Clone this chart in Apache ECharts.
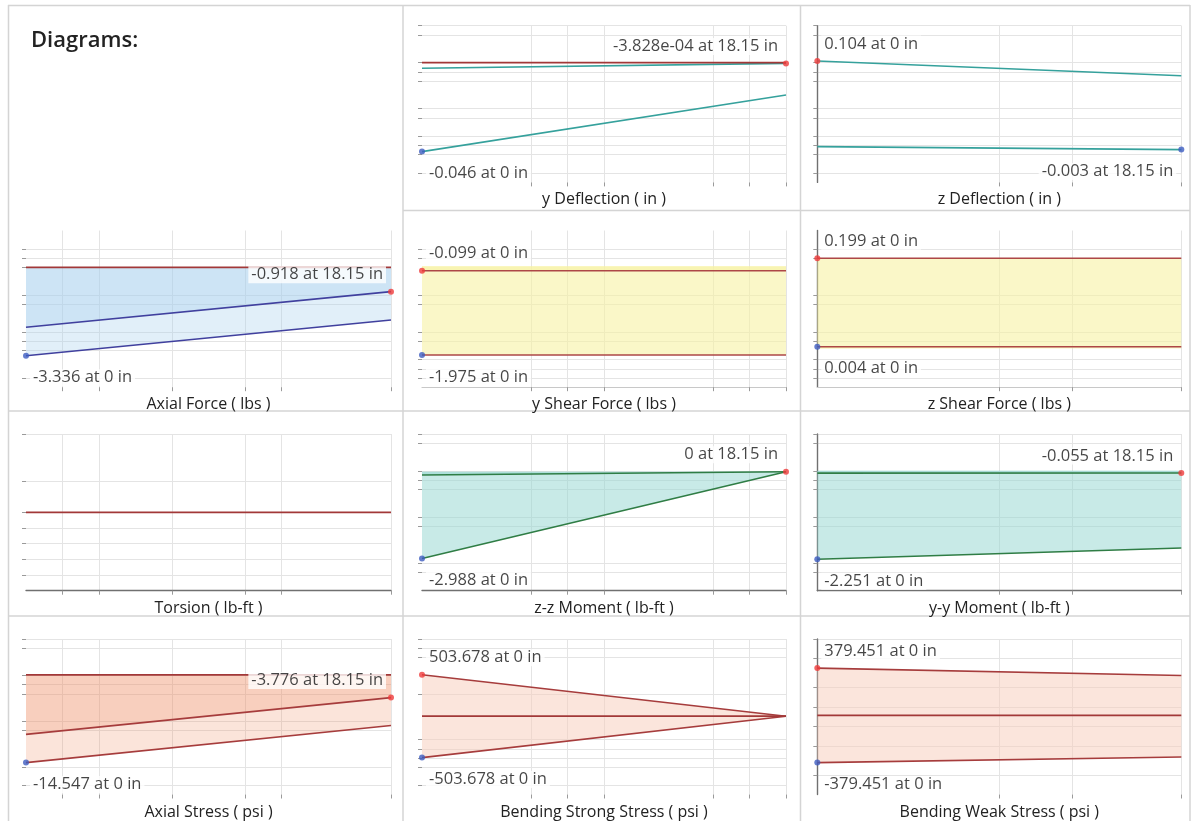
<!DOCTYPE html>
<html>
<head>
<meta charset="utf-8">
<title>Diagrams</title>
<script src="https://cdn.jsdelivr.net/npm/echarts@6/dist/echarts.min.js"></script>
<style>
  html, body { margin: 0; padding: 0; background: #fff; }
  #chart { width: 1193px; height: 821px; }
</style>
</head>
<body>
<div id="chart"></div>
<script>
// Stations along the member (in)
const stations = [0, 18.15];

// Envelope curves (max / min) at each station
const yDeflectionMax = [-0.0029, -3.828e-4];
const yDeflectionMin = [-0.046, -0.0167];
const zDeflectionMax = [0.104, 0.0862];
const zDeflectionMin = [0.0006, -0.003];
const axialForceMax = [-2.264, -0.918];
const axialForceMin = [-3.336, -1.99];
const yShearMax = [-0.099, -0.099];
const yShearMin = [-1.975, -1.975];
const zShearMax = [0.199, 0.199];
const zShearMin = [0.004, 0.004];
const torsionValues = [0, 0];
const zzMomentMax = [-0.11, 0];
const zzMomentMin = [-2.988, 0];
const yyMomentMax = [-0.06, -0.055];
const yyMomentMin = [-2.251, -1.964];
const axialStressMax = [-9.88, -3.776];
const axialStressMin = [-14.547, -8.40];
const bendStrongMax = [503.678, 0];
const bendStrongMin = [-503.678, 0];
const bendWeakMax = [379.451, 320];
const bendWeakMin = [-379.451, -335];

const diagramTitles = [
  'y Deflection ( in )', 'z Deflection ( in )',
  'Axial Force ( lbs )', 'y Shear Force ( lbs )', 'z Shear Force ( lbs )',
  'Torsion ( lb-ft )', 'z-z Moment ( lb-ft )', 'y-y Moment ( lb-ft )',
  'Axial Stress ( psi )', 'Bending Strong Stress ( psi )', 'Bending Weak Stress ( psi )'
];

// ---------- layout & styling ----------
const FONT = '"Open Sans", "Noto Sans", sans-serif';
const layout = {
  colLeft: [26, 422, 817.3],
  colWidth: [365, 364, 364],
  rowTop: [25.7, 230.5, 434, 639],
  rowHeight: 156.7
};
const X1 = [1, 2, 4, 6, 7, 10], X2 = [3, 4, 5, 8, 9, 10], X3 = [5, 7, 10];
const COLORS = {
  zero: '#a23838', teal: '#35a19c', navy: '#40409e', shear: '#ad4747',
  green: '#2f7d45', stress: '#a63c3c', maxDot: '#ef3b3b', minDot: '#3d5cc0',
  grid: '#e4e4e4', tick: '#9a9a9a', axisDark: '#707070', axisLight: '#c8c8c8'
};
const STYLES = {
  deflection: { line: COLORS.teal, area: null },
  axialForce: { line: COLORS.navy, area: 'rgba(168,207,238,0.34)' },
  shear:      { line: COLORS.shear, area: 'rgba(247,242,163,0.6)' },
  torsion:    { line: COLORS.zero, area: null },
  moment:     { line: COLORS.green, area: 'rgba(145,213,207,0.5)' },
  axialStress:{ line: COLORS.stress, area: 'rgba(239,143,99,0.24)' },
  bending:    { line: COLORS.stress, area: 'rgba(247,203,185,0.5)' }
};

const panels = [
  { title: diagramTitles[0], col: 1, row: 0, max: yDeflectionMax, min: yDeflectionMin, style: 'deflection', zero: true,
    range: [-0.06192, 0.01912], rows: 17, yLines: [0, 1, 4, 5, 6, 9, 10, 12, 13, 14, 16], xLines: X2 },
  { title: diagramTitles[1], col: 2, row: 0, max: zDeflectionMax, min: zDeflectionMin, style: 'deflection', zero: false,
    range: [-0.0426, 0.1466], rows: 17, yLines: [0, 1, 4, 5, 6, 9, 10, 12, 13, 14, 16], xLines: X3, leftLine: 'dark' },
  { title: diagramTitles[2], col: 0, row: 1, max: axialForceMax, min: axialForceMin, style: 'axialForce', zero: true,
    range: [-4.525, 1.389], rows: 17, yLines: [2, 3, 4, 7, 8, 11, 12, 13, 16], xLines: X1 },
  { title: diagramTitles[3], col: 1, row: 1, max: yShearMax, min: yShearMin, style: 'shear', zero: false,
    range: [-2.691, 0.7955], rows: 17, yLines: [2, 3, 7, 8, 11, 12, 14, 15, 16], xLines: X2, bottomLine: 'light' },
  { title: diagramTitles[4], col: 2, row: 1, max: zShearMax, min: zShearMin, style: 'shear', zero: false,
    range: [-0.0854, 0.2603], rows: 17, yLines: [2, 3, 7, 8, 11, 12, 14, 15, 16], xLines: X3, leftLine: 'dark', bottomLine: 'light' },
  { title: diagramTitles[5], col: 0, row: 2, values: torsionValues, style: 'torsion', zero: false,
    range: [-1, 1], rows: 10, yLines: [0, 3, 5, 6, 7, 8, 9], xLines: X1, bottomLine: 'dark' },
  { title: diagramTitles[6], col: 1, row: 2, max: zzMomentMax, min: zzMomentMin, style: 'moment', zero: false,
    range: [-4.096, 1.301], rows: 17, yLines: [0, 1, 4, 5, 6, 9, 10, 14, 15], xLines: X2, bottomLine: 'dark' },
  { title: diagramTitles[7], col: 2, row: 2, max: yyMomentMax, min: yyMomentMin, style: 'moment', zero: false,
    range: [-3.051, 0.9355], rows: 17, yLines: [0, 1, 4, 5, 6, 9, 10, 14, 15], xLines: X3, leftLine: 'dark', bottomLine: 'dark' },
  { title: diagramTitles[8], col: 0, row: 3, max: axialStressMax, min: axialStressMin, style: 'axialStress', zero: true,
    range: [-19.835, 5.931], rows: 17, yLines: [0, 1, 4, 5, 6, 9, 10, 14, 16], xLines: X1 },
  { title: diagramTitles[9], col: 1, row: 3, max: bendStrongMax, min: bendStrongMin, style: 'bending', zero: true,
    range: [-952.3, 939], rows: 17, yLines: [0, 1, 2, 6, 11, 12, 13, 14, 16], xLines: X2 },
  { title: diagramTitles[10], col: 2, row: 3, max: bendWeakMax, min: bendWeakMin, style: 'bending', zero: true,
    range: [-635.8, 613.4], rows: 16, yLines: [0, 2, 5, 7, 9, 11, 14], xLines: X3, leftLine: 'dark' }
];

// ---------- helpers ----------
function fmtNum(v) {
  if (v !== 0 && Math.abs(v) < 0.001) {
    return v.toExponential(3).replace(/e([+-])(\d)$/, 'e$10$2');
  }
  return String(parseFloat(v.toFixed(3)));
}
function pairs(values) {
  return values.map((v, i) => [stations[i], v]);
}
function axisLineStyle(kind) {
  if (!kind) return { show: false, onZero: false };
  return { show: true, onZero: false,
    lineStyle: { color: kind === 'dark' ? COLORS.axisDark : COLORS.axisLight, width: kind === 'dark' ? 1.4 : 1.2 } };
}
function markerItem(values, isMax) {
  let idx = 0;
  values.forEach((v, i) => {
    if (isMax ? v > values[idx] : v < values[idx]) idx = i;
  });
  const atStart = idx === 0;
  const dx = atStart ? 4 : -5;
  const dy = isMax ? -17 : 22;
  return {
    value: [stations[idx], values[idx]],
    itemStyle: { color: isMax ? COLORS.maxDot : COLORS.minDot },
    label: {
      show: true,
      formatter: fmtNum(values[idx]) + ' at ' + fmtNum(stations[idx]) + ' in',
      position: [3 + dx, 3 + dy],
      align: atStart ? 'left' : 'right',
      verticalAlign: 'middle',
      fontFamily: FONT, fontSize: 16.5, color: '#161616',
      backgroundColor: '#ffffff', padding: [0, 3], lineHeight: 17
    }
  };
}

// ---------- build option ----------
const grids = [], xAxes = [], yAxes = [], series = [];
panels.forEach((p, i) => {
  grids.push({
    left: layout.colLeft[p.col], top: layout.rowTop[p.row],
    width: layout.colWidth[p.col], height: layout.rowHeight
  });
  // reference grid axes (grid lines, ticks, axis lines, titles)
  xAxes.push({
    gridIndex: i, type: 'value', min: 0, max: 10, interval: 1, position: 'bottom',
    axisLine: axisLineStyle(p.bottomLine),
    axisTick: { show: true, customValues: p.xLines, length: 4, lineStyle: { color: COLORS.tick } },
    axisLabel: { show: false },
    splitLine: { show: true, lineStyle: { color: COLORS.grid, width: 1 } },
    name: p.title, nameLocation: 'middle', nameGap: 9.5,
    nameTextStyle: { fontFamily: FONT, fontSize: 16, color: '#222', verticalAlign: 'top' }
  });
  yAxes.push({
    gridIndex: i, type: 'value', min: 0, max: p.rows, interval: 1, inverse: true, position: 'left',
    axisLine: axisLineStyle(p.leftLine),
    axisTick: { show: true, customValues: p.yLines, length: 4, lineStyle: { color: COLORS.tick } },
    axisLabel: { show: false },
    splitLine: { show: true, lineStyle: { color: COLORS.grid, width: 1 } }
  });
  // data axes (member position vs. result value)
  const dxi = xAxes.length;
  xAxes.push({ gridIndex: i, type: 'value', min: 0, max: stations[stations.length - 1], show: false });
  const dyi = yAxes.length;
  yAxes.push({ gridIndex: i, type: 'value', min: p.range[0], max: p.range[1], show: false });

  const st = STYLES[p.style];
  const base = { type: 'line', xAxisIndex: dxi, yAxisIndex: dyi, symbol: 'none', silent: true, animation: false };

  if (p.style === 'torsion') {
    series.push(Object.assign({}, base, { data: pairs(p.values), lineStyle: { color: st.line, width: 1.8 }, z: 3 }));
    return;
  }
  [p.min, p.max].forEach(vals => {
    const s = Object.assign({}, base, { data: pairs(vals), lineStyle: { color: st.line, width: 1.6 }, z: 2 });
    if (st.area) s.areaStyle = { color: st.area, opacity: 1 };
    series.push(s);
  });
  if (p.zero) {
    series.push(Object.assign({}, base, {
      data: pairs(stations.map(() => 0)), lineStyle: { color: COLORS.zero, width: 1.8 }, z: 3
    }));
  }
  series.push({
    type: 'scatter', xAxisIndex: dxi, yAxisIndex: dyi, symbol: 'circle', symbolSize: 6,
    silent: true, animation: false, z: 5, clip: false,
    data: [markerItem(p.max, true), markerItem(p.min, false)]
  });
});

// panel frame lines
const frameColor = '#d4d4d4';
function seg(x1, y1, x2, y2) {
  return { type: 'line', silent: true, z: 0,
    shape: { x1, y1, x2, y2 }, style: { stroke: frameColor, lineWidth: 1.5 } };
}
const frames = [
  seg(8.5, 5, 8.5, 821), seg(8, 5.5, 1190, 5.5), seg(1190, 5, 1190, 821),
  seg(403, 5, 403, 821), seg(800.5, 5, 800.5, 821),
  seg(403, 210.5, 1190, 210.5), seg(8, 411, 1190, 411), seg(8, 616, 1190, 616)
];

const chart = echarts.init(document.getElementById('chart'), null, { width: 1193, height: 821 });
chart.setOption({
  backgroundColor: '#ffffff',
  animation: false,
  title: {
    text: 'Diagrams:', left: 26, top: 25,
    textStyle: { fontFamily: FONT, fontSize: 22, fontWeight: 600, color: '#222' }
  },
  graphic: frames,
  grid: grids,
  xAxis: xAxes,
  yAxis: yAxes,
  series: series
});
</script>
</body>
</html>
